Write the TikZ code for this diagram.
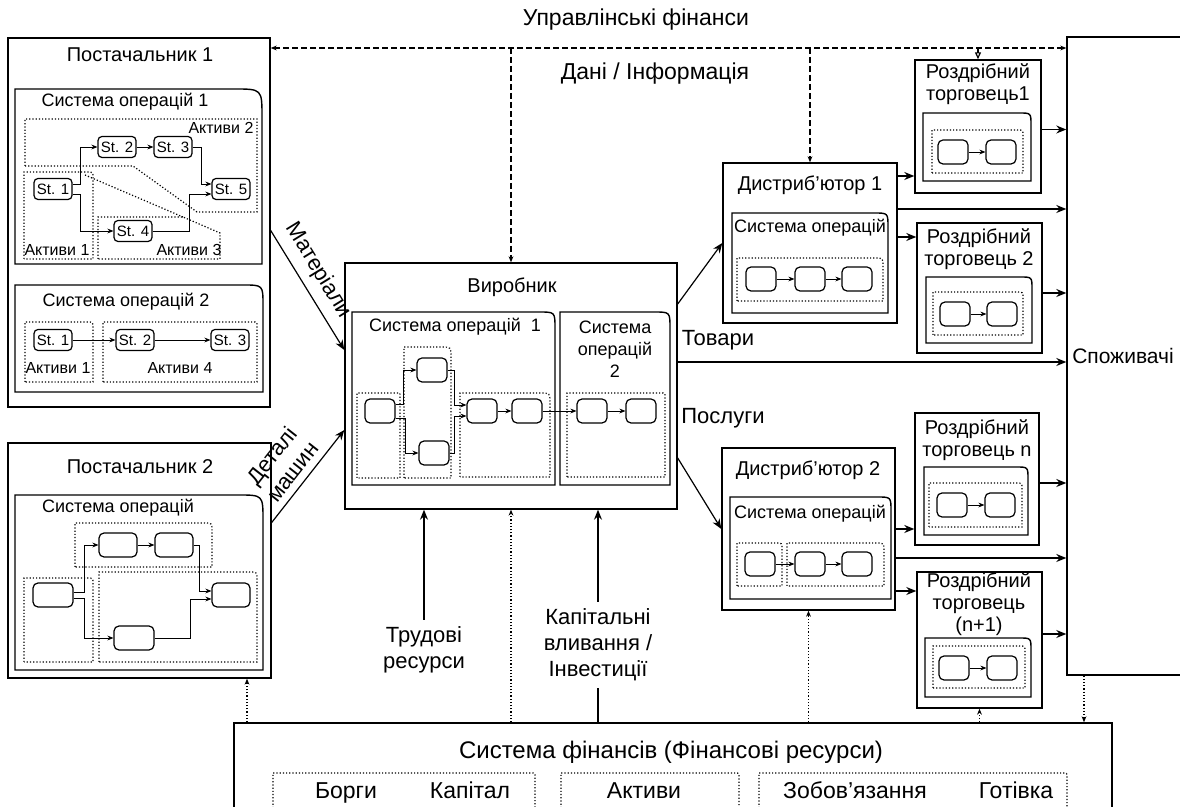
\documentclass[tikz,border=0pt]{standalone}
\usepackage{fontspec}
\setmainfont{Liberation Sans}
\usetikzlibrary{arrows.meta, positioning, fit}

\begin{document}
\begin{tikzpicture}[x=0.5pt, y=-0.5pt, >={Stealth[length=3pt,width=2.4pt]},
    box/.style={draw, line width=0.7pt, inner sep=0pt},
    sysline/.style={line width=0.7pt},
    region/.style={densely dotted, line width=0.6pt},
    stbox/.style={draw, rounded corners=2pt, line width=0.6pt, minimum width=19pt, minimum height=10.5pt, inner sep=1pt, font=\fontsize{7.5}{8}\selectfont},
    opbox/.style={draw, rounded corners=2.5pt, line width=0.6pt, minimum width=15pt, minimum height=12pt, inner sep=0pt},
    title/.style={font=\fontsize{10}{11}\selectfont, align=center},
    systitle/.style={font=\fontsize{9}{11}\selectfont, align=center},
    assets/.style={font=\fontsize{8}{9}\selectfont},
    biglabel/.style={font=\fontsize{11}{13}\selectfont, align=center},
    finlabel/.style={font=\fontsize{11.5}{13}\selectfont, anchor=base},
    flow/.style={-{Stealth[length=5pt,width=4pt]}, line width=0.6pt},
    infoline/.style={dash pattern=on 3pt off 1.5pt, line width=0.6pt},
    finline/.style={densely dotted, line width=0.6pt},
  ]
  \useasboundingbox (0,0) rectangle (1180,807);

  % Define the main boxes
  \node[box, fit={(8,38) (270,407)}] (sup_1) {};
  \node[box, fit={(8,443) (271,678)}] (sup_2) {};
  \node[box, fit={(345,263) (677,509)}] (man) {};
  \node[box, fit={(723,163) (897,323)}] (dist_1) {};
  \node[box, fit={(722,448) (895,610)}] (dist_2) {};
  \node[box, fit={(915,60) (1041,193)}] (ret_1) {};
  \node[box, fit={(917,223) (1042,353)}] (ret_2) {};
  \node[box, fit={(915,413) (1039,545)}] (ret_n) {};
  \node[box, fit={(917,572) (1042,708)}] (ret_n1) {};
  \node[box, fit={(1067,37) (1200,675)}] (cons) {};
  \node[box, fit={(234,723) (1112,840)}] (fin) {};

  % Operation systems, top right corner rounded
  \foreach \a/\b/\c/\d/\r in {15/89/262/264/28, 15/285/263/392/20, 15/495/263/670/25,
      352/312/555/485/16, 560/312/670/485/16, 732/213/888/313/14, 730/497/891/599/14,
      923/113/1031/181/12, 926/277/1032/343/12, 924/467/1028/535/12, 925/638/1031/697/12}
    \draw[sysline] (\a,\d) -- (\a,\b) -- (\c-\r,\b) .. controls (\c,\b) .. (\c,\b+\r) -- (\c,\d) -- cycle;

  % Asset areas
  \foreach \a/\b/\c/\d/\r in {24/172/93/259/6, 25/322/93/382/6, 103/322/257/382/4,
      24/578/93/662/6, 75/523/212/567/8, 99/572/257/662/8,
      357/393/400/478/2, 404/347/451/478/10, 460/393/550/477/10, 567/393/665/477/4,
      737/258/883/301/8, 737/543/782/586/6, 787/543/884/586/8,
      932/130/1023/173/6, 933/292/1023/335/6, 929/483/1022/527/6, 933/646/1025/688/6,
      273/773/535/840/4, 561/773/739/840/4, 759/773/1067/840/4}
    \draw[region] (\a,\d) -- (\a,\b) -- (\c-\r,\b) .. controls (\c,\b) .. (\c,\b+\r) -- (\c,\d) -- cycle;
  \draw[region] (25,166) -- (25,119) -- (257,119) -- (257,212) -- (197,212) -- (133,166) -- cycle;
  \draw[region] (98,259) -- (98,217) -- (183,217) -- (220,233) -- (220,259) -- cycle;
  \draw[region] (85,175) -- (183,217);

  % Titles
  \node[title] (sup_1_t) at (140,55) {Постачальник 1};
  \node[systitle] (so_11_t) at (125,102) {Система операцій 1};
  \node[systitle] (so_12_t) at (126,302) {Система операцій 2};
  \node[title] (sup_2_t) at (140,467) {Постачальник 2};
  \node[systitle] (so_2_t) at (118,508) {Система операцій};
  \node[title] (man_t) at (512,287) {Виробник};
  \node[systitle] (so_m1_t) at (455,327) {Система операцій\ \ 1};
  \node[systitle] (so_m2_t) at (615,349) {Система\\операцій\\2};
  \node[title] (dist_1_t) at (810,185) {Дистриб’ютор 1};
  \node[systitle] (so_d1_t) at (810,228) {Система операцій};
  \node[title] (dist_2_t) at (808,470) {Дистриб’ютор 2};
  \node[systitle] (so_d2_t) at (810,514) {Система операцій};
  \node[title] (ret_1_t) at (978,84) {Роздрібний\\торговець1};
  \node[title] (ret_2_t) at (979,249) {Роздрібний\\торговець 2};
  \node[title] (ret_n_t) at (977,440) {Роздрібний\\торговець n};
  \node[title] (ret_n1_t) at (979,604) {Роздрібний\\торговець\\(n+1)};
  \node[title, font=\fontsize{10.5}{13}\selectfont] (cons_t) at (1123,356) {Споживачі};
  \node[font=\fontsize{12}{14}\selectfont] (fin_t) at (671,752) {Система фінансів (Фінансові ресурси)};

  % Asset labels
  \node[assets] (a_11) at (57,250) {Активи 1};
  \node[assets] (a_12) at (221,128) {Активи 2};
  \node[assets] (a_13) at (189,250) {Активи 3};
  \node[assets] (a_21) at (58,368) {Активи 1};
  \node[assets] (a_24) at (180,368) {Активи 4};
  \node[finlabel] (f_debt) at (346,799) {Борги};
  \node[finlabel] (f_cap) at (470,799) {Капітал};
  \node[finlabel] (f_asset) at (644,799) {Активи};
  \node[finlabel] (f_liab) at (855,799) {Зобов’язання};
  \node[finlabel] (f_cash) at (1016,799) {Готівка};

  % Stages of supplier 1
  \node[stbox] (st_11) at (53,189) {St. 1};
  \node[stbox] (st_12) at (117,147) {St. 2};
  \node[stbox] (st_13) at (173,147) {St. 3};
  \node[stbox] (st_14) at (133,231) {St. 4};
  \node[stbox] (st_15) at (231,189) {St. 5};
  \node[stbox] (st_21) at (53,340) {St. 1};
  \node[stbox] (st_22) at (135,340) {St. 2};
  \node[stbox] (st_23) at (230,340) {St. 3};

  \draw[->] ([yshift=2.5pt]st_11.east) -- ++(4pt,0) |- (st_12.west);
  \draw[->] ([yshift=-2.5pt]st_11.east) -- ++(4pt,0) |- (st_14.west);
  \draw[->] (st_12.east) -- (st_13.west);
  \draw[->] (st_13.east) -- ++(4.5pt,0) |- ([yshift=2.5pt]st_15.west);
  \draw[->] (st_14.east) -- ++(18.5pt,0) |- ([yshift=-2.5pt]st_15.west);
  \draw[->] (st_21.east) -- (st_22.west);
  \draw[->] (st_22.east) -- (st_23.west);

  % Stages of supplier 2
  \node[opbox, minimum width=20pt] (s2_a) at (53,595) {};
  \node[opbox, minimum width=19pt] (s2_b) at (118,545) {};
  \node[opbox, minimum width=19pt] (s2_c) at (174,545) {};
  \node[opbox, minimum width=19pt] (s2_d) at (231,595) {};
  \node[opbox, minimum width=20pt] (s2_e) at (134,638) {};

  \draw[->] ([yshift=1.5pt]s2_a.east) -- ++(5.5pt,0) |- (s2_b.west);
  \draw[->] ([yshift=-1.5pt]s2_a.east) -- ++(5.5pt,0) |- (s2_e.west);
  \draw[->] (s2_b.east) -- (s2_c.west);
  \draw[->] (s2_c.east) -- ++(3pt,0) |- ([yshift=2pt]s2_d.west);
  \draw[->] (s2_e.east) -- ++(18pt,0) |- ([yshift=-2pt]s2_d.west);

  % Stages of the manufacturer
  \node[opbox] (m_a) at (380,411) {};
  \node[opbox] (m_b) at (432,370) {};
  \node[opbox] (m_c) at (434,453) {};
  \node[opbox] (m_d) at (482,411) {};
  \node[opbox] (m_e) at (527,411) {};
  \node[opbox] (m_f) at (592,411) {};
  \node[opbox] (m_g) at (641,411) {};

  \draw[->] ([yshift=3.5pt]m_a.east) -- ++(4pt,0) |- (m_b.west);
  \draw[->] ([yshift=-3.5pt]m_a.east) -- ++(5pt,0) |- (m_c.west);
  \draw[->] (m_b.east) -- ++(3.5pt,0) |- ([yshift=3pt]m_d.west);
  \draw[->] (m_c.east) -- ++(2.5pt,0) |- ([yshift=-2.5pt]m_d.west);
  \draw[->] (m_d.east) -- (m_e.west);
  \draw[->] (m_e.east) -- (m_f.west);
  \draw[->] (m_f.east) -- (m_g.west);

  % Stages of distributors and retailers
  \node[opbox] (d1_a) at (761,279) {};
  \node[opbox] (d1_b) at (810,279) {};
  \node[opbox] (d1_c) at (857,279) {};
  \node[opbox] (d2_a) at (760,564) {};
  \node[opbox] (d2_b) at (810,564) {};
  \node[opbox] (d2_c) at (857,564) {};
  \node[opbox] (r1_a) at (953,152) {};
  \node[opbox] (r1_b) at (1001,152) {};
  \node[opbox] (r2_a) at (955,314) {};
  \node[opbox] (r2_b) at (1002,314) {};
  \node[opbox] (rn_a) at (952,505) {};
  \node[opbox] (rn_b) at (1000,505) {};
  \node[opbox] (rn1_a) at (954,668) {};
  \node[opbox] (rn1_b) at (1002,668) {};

  \draw[->] (d1_a) -- (d1_b);
  \draw[->] (d1_b) -- (d1_c);
  \draw[->] (d2_a) -- (d2_b);
  \draw[->] (d2_b) -- (d2_c);
  \draw[->] (r1_a) -- (r1_b);
  \draw[->] (r2_a) -- (r2_b);
  \draw[->] (rn_a) -- (rn_b);
  \draw[->] (rn1_a) -- (rn1_b);

  % Material flows
  \draw[flow] ([yshift=-4pt]sup_1.east) -- node[pos=0.42, sloped, above=1pt, biglabel] (mat_t) {Матеріали} ([yshift=18pt]man.west);
  \draw[flow] ([yshift=19pt]sup_2.east) -- node[pos=0.45, sloped, above=0pt, biglabel] (det_t) {Деталі\\машин} ([yshift=-22pt]man.west);
  \draw[flow] ([yshift=41pt]man.east) -- (dist_1.west);
  \draw[flow] ([yshift=-36pt]man.east) -- (dist_2.west);
  \draw[flow] ([yshift=12pt]man.east) coordinate (gd) -- (gd -| cons.west);
  \node[biglabel] (goods_t) at (718,340) {Товари};
  \node[biglabel] (serv_t) at (723,418) {Послуги};

  \draw[flow] ([yshift=33.5pt]dist_1.east) coordinate (d1r1) -- (d1r1 -| ret_1.west);
  \draw[flow] ([yshift=17pt]dist_1.east) coordinate (d1c) -- (d1c -| cons.west);
  \draw[flow] ([yshift=3pt]dist_1.east) coordinate (d1r2) -- (d1r2 -| ret_2.west);
  \draw[flow] (dist_2.east) -- (dist_2.east -| ret_n.west);
  \draw[flow] ([yshift=-14.5pt]dist_2.east) coordinate (d2c) -- (d2c -| cons.west);
  \draw[flow] ([yshift=-31pt]dist_2.east) coordinate (d2r) -- (d2r -| ret_n1.west);
  \draw[flow] ([yshift=-1.5pt]ret_1.east) coordinate (r1c) -- (r1c -| cons.west);
  \draw[flow] ([yshift=-2.5pt]ret_2.east) coordinate (r2c) -- (r2c -| cons.west);
  \draw[flow] ([yshift=-2pt]ret_n.east) coordinate (rnc) -- (rnc -| cons.west);
  \draw[flow] ([yshift=3pt]ret_n1.east) coordinate (rn1c) -- (rn1c -| cons.west);

  % Management finance and information
  \node[biglabel, font=\fontsize{11.5}{13}\selectfont] (mgmt_t) at (636,20) {Управлінські фінанси};
  \node[biglabel, font=\fontsize{11.5}{13}\selectfont] (info_t) at (655,74) {Дані / Інформація};
  \coordinate (mgmt) at (0,48);
  \draw[infoline, <->] (sup_1.east |- mgmt) -- (cons.west |- mgmt);
  \draw[infoline, ->] (man.north |- mgmt) -- (man.north);
  \draw[infoline, ->] (dist_1.north |- mgmt) -- (dist_1.north);
  \draw[infoline, -{Triangle[open, length=3.5pt, width=3pt]}] (ret_1.north |- mgmt) -- (ret_1.north);

  % Financial resources
  \coordinate (f_s2) at (247,0);
  \coordinate (f_cons) at (1084,0);
  \draw[finline, ->] (fin.north -| f_s2) -- (sup_2.south -| f_s2);
  \draw[finline, ->] (fin.north -| man.south) -- (man.south);
  \draw[finline, ->] (fin.north -| dist_2.south) -- (dist_2.south);
  \draw[finline, ->] (fin.north -| ret_n1.south) -- (ret_n1.south);
  \draw[finline, ->] (cons.south -| f_cons) -- (fin.north -| f_cons);

  \node[biglabel] (lab_t) at (424,650) {Трудові\\ресурси};
  \node[biglabel] (inv_t) at (598,645) {Капітальні\\вливання /\\Інвестиції};
  \draw[flow] (lab_t.north) -- (lab_t.north |- man.south);
  \draw[flow] (inv_t.north) -- (inv_t.north |- man.south);
  \draw[line width=0.6pt] (inv_t.south) -- (inv_t.south |- fin.north);
\end{tikzpicture}
\end{document}
